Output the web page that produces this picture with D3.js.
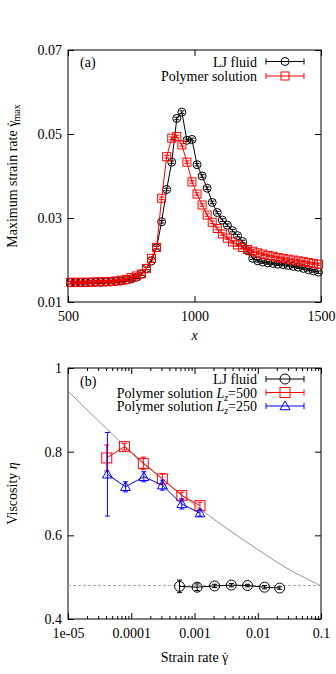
<!DOCTYPE html>
<html>
<head>
<meta charset="utf-8">
<script src="https://cdn.jsdelivr.net/npm/d3@7"></script>
<style>
  body { margin: 0; background: #fff; }
  text { font-family: "Liberation Serif", "Times New Roman", serif; font-size: 14px; fill: #000; }
</style>
</head>
<body>
<svg id="chart" width="336" height="674"></svg>
<script>
// ---- panel (a): maximum strain rate vs x ----
const xA = [510, 530, 550, 570, 590, 610, 630, 650, 670, 690,
            710, 730, 750, 770, 790, 810, 830, 850, 870, 890,
            910, 930, 950, 970, 990, 1010, 1030, 1050, 1070, 1090,
            1110, 1130, 1150, 1170, 1190, 1210, 1230, 1250, 1270, 1290,
            1310, 1330, 1350, 1370, 1390, 1410, 1430, 1450, 1470, 1490];
const ljA = [0.0146, 0.0146, 0.0146, 0.0146, 0.0147, 0.0147, 0.0147, 0.0148, 0.0148, 0.0149,
             0.0150, 0.0152, 0.0155, 0.0159, 0.0166, 0.0180, 0.0198, 0.0229, 0.0291, 0.0368,
             0.0433, 0.0537, 0.0552, 0.0485, 0.0487, 0.0427, 0.0400, 0.0371, 0.0337, 0.0313,
             0.0295, 0.0283, 0.0270, 0.0258, 0.0244, 0.0222, 0.0204, 0.0198, 0.0195, 0.0193,
             0.0192, 0.0190, 0.0189, 0.0187, 0.0185, 0.0183, 0.0180, 0.0177, 0.0174, 0.0171];
const polyA = [0.0147, 0.0147, 0.0147, 0.0147, 0.0147, 0.0148, 0.0148, 0.0148, 0.0149, 0.0150,
               0.0152, 0.0154, 0.0158, 0.0162, 0.0167, 0.0180, 0.0204, 0.0230, 0.0347, 0.0446,
               0.0490, 0.0494, 0.0474, 0.0433, 0.0386, 0.0357, 0.0331, 0.0307, 0.0290, 0.0275,
               0.0262, 0.0252, 0.0243, 0.0236, 0.0230, 0.0225, 0.0221, 0.0217, 0.0214, 0.0211,
               0.0209, 0.0206, 0.0204, 0.0202, 0.0200, 0.0198, 0.0196, 0.0194, 0.0192, 0.0190];
const errA = 0.0003; // error bars are tiny, hidden inside the markers
const xTicksA = [500, 1000, 1500];
const yTicksA = [0.01, 0.03, 0.05, 0.07];

// ---- panel (b): viscosity vs strain rate ----
const xLjB = [5.8e-4, 1.1e-3, 2.08e-3, 3.82e-3, 6.9e-3, 1.28e-2, 2.22e-2];
const ljB = [0.478, 0.476, 0.479, 0.481, 0.480, 0.476, 0.474];
const ljBErr = [0.015, 0.008, 0.004, 0.004, 0.003, 0.004, 0.003];
const xP500 = [4.1e-5, 7.8e-5, 1.55e-4, 3.1e-4, 6.3e-4, 1.22e-3];
const p500 = [0.785, 0.812, 0.772, 0.735, 0.695, 0.671];
const p500Err = [0.031, 0.008, 0.015, 0.012, 0.008, 0.008];
const xP250 = [4.2e-5, 8.1e-5, 1.58e-4, 3.1e-4, 6.3e-4, 1.22e-3];
const p250 = [0.746, 0.716, 0.740, 0.720, 0.675, 0.653];
const p250Err = [0.100, 0.012, 0.012, 0.012, 0.012, 0.007];
// fit curve and the reference level
const fitX = [1e-5, 3e-5, 1e-4, 3e-4, 1e-3, 3e-3, 1e-2, 3e-2, 1e-1];
const fitY = [0.945, 0.874, 0.800, 0.737, 0.673, 0.620, 0.566, 0.520, 0.479];
const refLevel = 0.48;
const xTicksB = [1e-5, 1e-4, 1e-3, 1e-2, 1e-1];
const xTickLabelsB = ["1e-05", "0.0001", "0.001", "0.01", "0.1"];
const yTicksB = [0.4, 0.6, 0.8, 1];

const svg = d3.select("#chart");
const left = 68, right = 321;
const gammaDot = '<tspan>γ</tspan><tspan dx="-5.5">˙</tspan>';

function frame(g, x0, x1, y0, y1) {
  g.append("rect").attr("x", x0).attr("y", y0)
    .attr("width", x1 - x0).attr("height", y1 - y0)
    .attr("fill", "none").attr("stroke", "#000").attr("stroke-width", 1);
}

function marker(g, type, cx, cy, color, size) {
  if (type === "circle") {
    g.append("circle").attr("cx", cx).attr("cy", cy).attr("r", size)
      .attr("fill", "none").attr("stroke", color);
  } else if (type === "square") {
    g.append("rect").attr("x", cx - size).attr("y", cy - size)
      .attr("width", 2 * size).attr("height", 2 * size)
      .attr("fill", "none").attr("stroke", color);
  } else {
    const s = size * 1.1;
    g.append("path")
      .attr("d", `M${cx},${cy - s}L${cx + s},${cy + s * 0.75}L${cx - s},${cy + s * 0.75}Z`)
      .attr("fill", "none").attr("stroke", color);
  }
}

function series(g, xs, ys, errs, x, y, color, type, size) {
  const pts = xs.map((d, i) => [x(d), y(ys[i])]);
  g.append("path").attr("d", d3.line()(pts))
    .attr("fill", "none").attr("stroke", color).attr("stroke-width", 1);
  xs.forEach((d, i) => {
    const e = Array.isArray(errs) ? errs[i] : errs;
    const px = x(d), yt = y(ys[i] + e), yb = y(ys[i] - e);
    g.append("path")
      .attr("d", `M${px},${yt}V${yb}M${px - 2.5},${yt}H${px + 2.5}M${px - 2.5},${yb}H${px + 2.5}`)
      .attr("stroke", color).attr("fill", "none");
    marker(g, type, px, y(ys[i]), color, size);
  });
}

function legendRow(g, label, yy, color, type, size) {
  g.append("text").attr("x", 257).attr("y", yy + 5)
    .attr("text-anchor", "end").html(label);
  g.append("path")
    .attr("d", `M266,${yy}H304M266,${yy - 3}V${yy + 3}M304,${yy - 3}V${yy + 3}`)
    .attr("stroke", color).attr("fill", "none");
  marker(g, type, 285, yy, color, size);
}

// ================= panel (a) =================
{
  const top = 50, bottom = 302;
  const x = d3.scaleLinear().domain([500, 1500]).range([left, right]);
  const y = d3.scaleLinear().domain([0.01, 0.07]).range([bottom, top]);
  const g = svg.append("g");

  g.append("g").attr("transform", `translate(0,${bottom})`)
    .call(d3.axisBottom(x).tickValues(xTicksA).tickSize(-6).tickPadding(9).tickFormat(d3.format("d")));
  g.append("g").attr("transform", `translate(0,${top})`)
    .call(d3.axisTop(x).tickValues(xTicksA).tickSize(-6).tickFormat(""));
  g.append("g").attr("transform", `translate(${left},0)`)
    .call(d3.axisLeft(y).tickValues(yTicksA).tickSize(-6).tickPadding(6).tickFormat(d3.format(".2f")));
  g.append("g").attr("transform", `translate(${right},0)`)
    .call(d3.axisRight(y).tickValues(yTicksA).tickSize(-6).tickFormat(""));
  g.selectAll(".domain").remove();
  g.selectAll(".tick text").style("font-family", "Liberation Serif").style("font-size", "14px");
  frame(g, left, right, top, bottom);

  series(g, xA, ljA, errA, x, y, "#000", "circle", 4);
  series(g, xA, polyA, errA, x, y, "#f00", "square", 4);

  g.append("text").attr("x", 80).attr("y", 67).text("(a)");
  legendRow(g, "LJ fluid", 61.5, "#000", "circle", 4);
  legendRow(g, "Polymer solution", 76, "#f00", "square", 4);

  g.append("text").attr("x", (left + right) / 2).attr("y", 340)
    .attr("text-anchor", "middle").style("font-style", "italic").text("x");
  g.append("text").attr("transform", `translate(17,${(top + bottom) / 2}) rotate(-90)`)
    .attr("text-anchor", "middle")
    .html('Maximum strain rate ' + gammaDot + '<tspan dy="3" style="font-size:10px">max</tspan>');
}

// ================= panel (b) =================
{
  const top = 368, bottom = 619;
  const x = d3.scaleLog().domain([1e-5, 1e-1]).range([left, right]);
  const y = d3.scaleLinear().domain([0.4, 1]).range([bottom, top]);
  const g = svg.append("g");

  const minor = [];
  xTicksB.slice(0, -1).forEach(d => { for (let k = 2; k < 10; k++) minor.push(d * k); });

  g.append("g").attr("transform", `translate(0,${bottom})`)
    .call(d3.axisBottom(x).tickValues(xTicksB).tickSize(-6).tickPadding(9)
      .tickFormat((d, i) => xTickLabelsB[i]));
  g.append("g").attr("transform", `translate(0,${bottom})`)
    .call(d3.axisBottom(x).tickValues(minor).tickSize(-3).tickFormat(""));
  g.append("g").attr("transform", `translate(0,${top})`)
    .call(d3.axisTop(x).tickValues(xTicksB).tickSize(-6).tickFormat(""));
  g.append("g").attr("transform", `translate(0,${top})`)
    .call(d3.axisTop(x).tickValues(minor).tickSize(-3).tickFormat(""));
  g.append("g").attr("transform", `translate(${left},0)`)
    .call(d3.axisLeft(y).tickValues(yTicksB).tickSize(-6).tickPadding(6).tickFormat(d3.format("")));
  g.append("g").attr("transform", `translate(${right},0)`)
    .call(d3.axisRight(y).tickValues(yTicksB).tickSize(-6).tickFormat(""));
  g.selectAll(".domain").remove();
  g.selectAll(".tick text").style("font-family", "Liberation Serif").style("font-size", "14px");
  frame(g, left, right, top, bottom);

  // reference level and fit curve
  g.append("line").attr("x1", left).attr("x2", right)
    .attr("y1", y(refLevel)).attr("y2", y(refLevel))
    .attr("stroke", "#aaa").attr("stroke-dasharray", "3,2");
  g.append("path")
    .attr("d", d3.line().curve(d3.curveCatmullRom)(fitX.map((d, i) => [x(d), y(fitY[i])])))
    .attr("fill", "none").attr("stroke", "#777").attr("stroke-width", 0.8);

  series(g, xLjB, ljB, ljBErr, x, y, "#000", "circle", 5);
  series(g, xP500, p500, p500Err, x, y, "#f00", "square", 5);
  series(g, xP250, p250, p250Err, x, y, "#00f", "triangle", 4.5);

  g.append("text").attr("x", 80).attr("y", 386).text("(b)");
  legendRow(g, "LJ fluid", 379, "#000", "circle", 5);
  legendRow(g, 'Polymer solution <tspan font-style="italic">L</tspan><tspan dy="3" style="font-size:10px;font-style:italic">z</tspan><tspan dy="-3">=500</tspan>', 392.5, "#f00", "square", 5);
  legendRow(g, 'Polymer solution <tspan font-style="italic">L</tspan><tspan dy="3" style="font-size:10px;font-style:italic">z</tspan><tspan dy="-3">=250</tspan>', 406, "#00f", "triangle", 4.5);

  g.append("text").attr("x", (left + right) / 2).attr("y", 662)
    .attr("text-anchor", "middle")
    .html('Strain rate ' + gammaDot);
  g.append("text").attr("transform", `translate(17,${(top + bottom) / 2}) rotate(-90)`)
    .attr("text-anchor", "middle")
    .html('Viscosity <tspan font-style="italic">η</tspan>');
}
</script>
</body>
</html>
